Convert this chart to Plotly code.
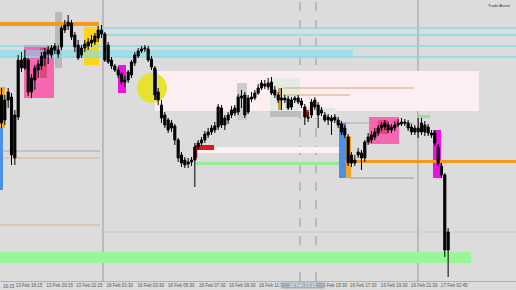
import plotly.graph_objects as go

# ---------------- candle data (price units, arbitrary scale) ----------------
open_ = [205,180,200,203,142,183,240,232,240,208,220,230,234,242,246,245,250,246,253,270,
         274,277,265,255,245,252,254,257,258,262,270,266,255,240,234,230,226,218,220,225,
         237,244,249,251,251,241,232,208,195,185,180,177,174,160,145,140,138,138,140,153,
         157,160,165,168,170,173,192,175,180,185,187,188,202,205,188,201,202,207,212,216,
         213,218,210,205,200,202,201,200,200,202,199,193,183,185,200,195,190,185,183,182,
         183,180,176,172,163,145,140,145,142,142,158,160,163,167,172,173,175,170,172,175,
         176,178,177,173,172,172,168,175,173,167,167,153,134,125,50]
high = [212,205,212,207,190,245,248,250,242,226,235,240,248,252,254,255,257,255,274,280,
        285,280,268,260,255,260,262,265,267,274,275,268,258,243,236,233,228,224,230,240,
        248,252,254,255,254,244,234,212,200,188,182,180,176,162,148,143,142,143,157,160,
        163,169,172,175,178,196,195,185,188,194,195,206,210,208,205,208,210,216,220,220,
        222,223,214,208,212,205,204,203,204,205,202,196,188,201,203,198,193,188,186,185,
        186,183,179,175,166,148,145,152,150,160,167,169,172,175,178,180,178,176,179,181,
        182,181,180,176,175,182,182,179,176,170,170,156,137,127,72]
low = [172,175,192,135,135,180,228,230,204,202,210,222,230,234,236,242,246,242,250,267,
       270,260,248,240,242,248,250,253,255,258,262,238,236,231,228,222,215,213,217,222,
       234,242,247,248,238,230,200,195,177,172,167,168,155,138,133,132,132,134,113,150,
       154,157,162,165,167,170,172,170,176,182,184,185,192,182,186,198,200,205,210,211,
       210,205,202,197,190,197,190,190,197,196,192,175,178,182,190,172,184,178,175,165,
       177,172,165,162,134,133,134,142,130,138,155,157,160,164,169,170,167,167,169,173,
       174,174,169,165,165,162,165,164,164,162,154,134,122,43,23]
close = [177,200,208,145,185,240,232,242,208,222,232,236,244,248,250,252,254,250,272,275,
         278,263,253,242,252,256,258,260,264,270,266,240,238,234,230,225,218,220,228,238,
         245,249,251,252,240,233,205,200,182,175,170,172,160,142,137,135,136,140,153,157,
         160,166,168,172,174,193,175,182,185,190,192,203,204,185,202,203,207,212,217,214,
         217,207,205,200,202,200,192,193,202,198,195,183,182,198,193,185,187,180,180,179,
         180,175,168,165,137,137,137,148,147,158,163,165,168,172,175,177,170,173,175,177,
         178,177,172,168,168,168,177,168,167,165,157,137,125,50,68]
candle_idx = list(range(len(open_)))

# ---------------- x-axis labels ----------------
tick_pos = [8.25, 17.5, 26.3, 35.5, 44.8, 53.9, 63.2, 72.2, 81.2, 99.7, 108.5, 117.8, 126.8, 135.8]
tick_text = ["13 Feb 18:15", "13 Feb 20:15", "13 Feb 22:15", "16 Feb 01:30", "16 Feb 03:30",
             "16 Feb 05:30", "16 Feb 07:30", "16 Feb 09:30", "16 Feb 11:30", "16 Feb 15:30",
             "16 Feb 17:30", "16 Feb 19:30", "16 Feb 21:30", "17 Feb 02:45"]
cursor_time = "16 Feb 13:15"

# ---------------- indicator zones (candle index, price) ----------------
X_END = 154.36
supply_zone = (46.05, 143.25, 189, 229)
mid_band = (58.05, 101.55, 147, 153)
green_line_zone = (58.05, 101.55, 135, 138)
demand_zone = (-0.45, 140.85, 37, 48)
top_orange = (-0.45, 29.25, 274, 278)
right_orange = (103.05, X_END, 137, 140)
cyan_levels = [(29.55, 272), (29.55, 265), (-0.45, 254), (-0.45, 243)]
cyan_band = (-0.45, 105.45, 243, 250)
pink_boxes = [(6.75, 15.75, 202, 255), (110.25, 119.25, 156, 183)]
pink_inner = [(11.55, 13.65, 222, 252), (112.95, 115.95, 166, 180)]
magenta_boxes = [(34.95, 37.35, 207, 235), (129.45, 131.85, 122, 170)]
yellow_box = (24.75, 29.25, 235, 273)
gray_box = (16.05, 18.15, 232, 288)
circle_zone = (40.65, 49.65, 197, 227)
blue_boxes = [(-0.45, 0.45, 110, 172), (101.25, 103.35, 122, 177)]
orange_boxes = [(-0.45, 1.05, 172, 213), (103.35, 104.85, 122, 164)]
vlines_solid = [30.45, 124.95]
vlines_dash = [89.55, 94.35]

fig = go.Figure()
fig.add_trace(go.Candlestick(
    x=candle_idx, open=open_, high=high, low=low, close=close,
    increasing=dict(line=dict(color="black", width=1), fillcolor="black"),
    decreasing=dict(line=dict(color="black", width=1), fillcolor="black"),
    whiskerwidth=0, showlegend=False, hoverinfo="skip"))

shapes = []
def rect(z, color, opacity=1.0):
    x0, x1, y0, y1 = z
    shapes.append(dict(type="rect", xref="x", yref="y", x0=x0, x1=x1, y0=y0, y1=y1,
                       fillcolor=color, opacity=opacity, line=dict(width=0), layer="below"))
def hline(x0, x1, y, color, width=1, dash="solid"):
    shapes.append(dict(type="line", xref="x", yref="y", x0=x0, x1=x1, y0=y, y1=y,
                       line=dict(color=color, width=width, dash=dash), layer="below"))

rect(supply_zone, "#fdeef2")
rect((80.55, 89.55, 188, 222), "#e3ebe5")
rect((80.55, 89.55, 183, 189), "#bdbdbd")
rect((70.65, 73.65, 180, 217), "#cccccc")
rect((91.05, 100.05, 182, 192), "#e4e4e4")
rect(mid_band, "#fbf0f3")
rect(green_line_zone, "#98ec98")
rect(demand_zone, "#98f598")
hline(-0.45, 29.55, 149, "#a8a8a8")
hline(-0.45, 29.55, 142, "#d8b48a")
hline(-0.45, 29.55, 75, "#d8b48a")
hline(29.55, X_END, 68, "#cacaca")
hline(84.45, 123.75, 212, "#d6a870")
hline(84.45, 104.55, 205, "#d6a870")
hline(104.55, 123.75, 122, "#9a9a9a")
hline(101.25, 123.75, 177, "#a8a8a8")
for z in pink_boxes:
    rect(z, "#f766b0")
for z in pink_inner:
    rect(z, "#d9487e")
rect(gray_box, "#b9b9b9")
rect(yellow_box, "#fdd31c")
for z in magenta_boxes:
    rect(z, "#ee10e6")
for z in orange_boxes:
    rect(z, "#f5a52c")
for z in blue_boxes:
    rect(z, "#4d90e3")
rect(top_orange, "#f39a1e")
rect(right_orange, "#f39a1e")
rect(cyan_band, "#74e0f2", opacity=0.55)
for x0, y in cyan_levels:
    hline(x0, X_END, y, "#86dce2", width=1.5)
x0, x1, y0, y1 = circle_zone
shapes.append(dict(type="circle", xref="x", yref="y", x0=x0, x1=x1, y0=y0, y1=y1,
                   fillcolor="#e6e232", line=dict(width=0), layer="below"))
rect((45.9, 46.6, 200, 230), "#1c2ea0")
rect((58.05, 63.75, 150, 155), "#e01818")
rect((58.05, 58.75, 142, 150), "#e01818")
rect((91.3, 92.2, 183, 190), "#d02020")
rect((82.95, 84.15, 190, 212), "#c9a040")
rect((125.25, 128.55, 182, 185), "#8fe88f")
for xv in vlines_solid:
    shapes.append(dict(type="line", xref="x", yref="paper", x0=xv, x1=xv, y0=0, y1=1,
                       line=dict(color="#9a9a9a", width=1), layer="below"))
for xv in vlines_dash:
    shapes.append(dict(type="line", xref="x", yref="paper", x0=xv, x1=xv, y0=0, y1=1,
                       line=dict(color="#9a9a9a", width=1, dash="dash"), layer="below"))

annotations = [
    dict(text="Trade Assist", xref="paper", yref="paper", x=0.995, y=0.995, xanchor="right",
         yanchor="top", showarrow=False, font=dict(size=4, color="#333333", family="Liberation Sans")),
    dict(text=cursor_time, xref="x", yref="paper", x=90.45, y=0, xanchor="center", yanchor="top",
         yshift=-1, showarrow=False, bgcolor="#a4abbd", borderpad=0,
         font=dict(size=4.5, color="#eef0f6", family="Liberation Sans"), width=42),
    dict(text="16:15", xref="paper", yref="paper", x=0.001, y=0, xanchor="left", yanchor="top",
         yshift=-1, showarrow=False, font=dict(size=4.5, color="#555555", family="Liberation Sans")),
]

fig.update_layout(
    width=516, height=290, margin=dict(l=0, r=0, t=0, b=9, autoexpand=False),
    paper_bgcolor="#dcdcdc", plot_bgcolor="#dcdcdc", boxgap=0.1,
    shapes=shapes, annotations=annotations, showlegend=False,
    xaxis=dict(range=[-0.45, X_END], rangeslider=dict(visible=False), showgrid=False, zeroline=False,
               tickmode="array", tickvals=tick_pos, ticktext=tick_text, ticks="", tickangle=0,
               automargin=False,
               tickfont=dict(size=4.5, color="#555555", family="Liberation Sans"),
               showline=True, linecolor="#b0b0b0", linewidth=1),
    yaxis=dict(range=[19, 300], showgrid=False, zeroline=False, showticklabels=False, automargin=False),
)
fig.write_html("out.html")
